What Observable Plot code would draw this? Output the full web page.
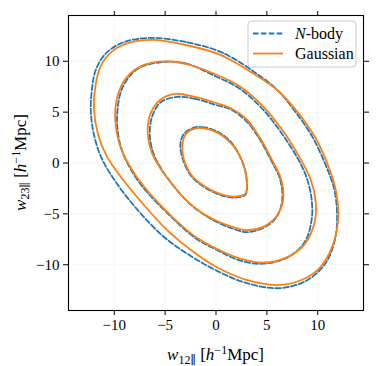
<!DOCTYPE html>
<html><head><meta charset="utf-8">
<script src="https://cdn.jsdelivr.net/npm/d3@7"></script>
<script src="https://cdn.jsdelivr.net/npm/@observablehq/plot@0.6"></script>
<style>body{margin:0;background:#fff} svg{display:block}</style>
</head><body><div id="chart"></div>
<script>
// Series names and colours
const seriesNames = ["N-body", "Gaussian"];
const seriesColors = ["#1f77b4", "#ff7f0e"];
const ticks = [-10, -5, 0, 5, 10];
const domain = [-14.5, 14.5];

// Contour points [w12, w23] (outermost = level 1)
const nbodyL1 = [[0.0,11.1],[-3.0,11.9],[-6.3,12.3],[-9.0,11.9],[-10.8,10.8],[-11.8,9.2],[-12.2,7.2],[-12.3,5.0],[-12.0,2.8],[-11.3,0.6],[-9.9,-1.8],[-7.8,-4.5],[-5.2,-7.2],[-2.7,-9.0],[0.1,-10.6],[3.0,-11.8],[6.3,-12.3],[9.0,-11.5],[10.8,-9.8],[11.7,-7.5],[11.9,-5.0],[11.6,-2.5],[10.7,0.0],[9.4,2.7],[7.9,4.9],[6.0,7.2],[3.4,9.2],[1.5,10.4]];
const nbodyL2 = [[0.0,8.5],[-3.0,9.8],[-5.5,9.9],[-7.8,9.2],[-9.2,7.4],[-9.7,5.0],[-9.6,2.7],[-9.0,0.6],[-7.4,-2.1],[-4.3,-5.4],[-2.0,-7.4],[0.0,-8.5],[2.4,-9.6],[4.6,-9.9],[7.0,-9.3],[8.7,-7.8],[9.4,-5.6],[9.4,-3.6],[8.9,-1.4],[8.0,0.5],[6.4,3.0],[4.4,5.5],[2.2,7.4]];
const nbodyL3 = [[0.0,5.7],[-2.0,6.3],[-3.8,6.5],[-5.4,6.0],[-6.3,4.5],[-6.5,2.6],[-6.1,0.8],[-5.6,-0.2],[-4.6,-1.7],[-2.9,-3.7],[-1.3,-5.0],[0.1,-5.8],[1.5,-6.4],[3.0,-6.8],[4.6,-6.4],[5.9,-5.4],[6.5,-3.7],[6.3,-1.6],[5.4,0.3],[4.2,2.5],[2.9,4.2],[1.4,5.3]];
const nbodyL4 = [[0.3,3.0],[-1.1,3.5],[-2.1,3.5],[-3.2,2.8],[-3.5,1.8],[-3.3,0.5],[-2.5,-1.2],[-1.1,-2.4],[0.6,-3.2],[1.9,-3.4],[2.9,-3.1],[3.0,-1.5],[2.6,0.1],[1.6,1.9]];
const gaussL1 = [[0.0,10.8],[-3.0,11.6],[-6.2,12.1],[-8.6,11.8],[-10.3,10.9],[-11.3,9.6],[-11.8,7.9],[-12.0,5.4],[-11.6,2.8],[-10.7,0.6],[-9.1,-1.7],[-7.2,-4.0],[-4.8,-6.6],[-2.4,-8.6],[0.0,-10.2],[3.0,-11.5],[6.0,-12.0],[8.4,-11.5],[10.2,-10.3],[11.4,-8.3],[12.0,-5.6],[11.8,-2.8],[11.0,-0.2],[9.7,2.6],[8.1,4.9],[6.1,7.1],[3.5,8.9],[1.5,10.1]];
const gaussL2 = [[0.0,8.7],[-2.8,9.7],[-5.0,10.0],[-7.2,9.6],[-8.8,8.4],[-9.7,6.5],[-9.9,4.2],[-9.5,1.9],[-8.6,-0.1],[-7.1,-2.3],[-4.2,-5.4],[-2.1,-7.2],[0.0,-8.4],[2.4,-9.4],[4.6,-9.8],[6.9,-9.3],[8.7,-8.0],[9.7,-5.8],[9.8,-3.8],[9.3,-1.6],[8.3,0.4],[6.7,3.0],[4.6,5.6],[2.4,7.5]];
const gaussL3 = [[0.0,5.9],[-2.1,6.5],[-4.0,6.8],[-5.5,6.2],[-6.5,4.7],[-6.7,2.8],[-6.3,1.0],[-5.8,0.0],[-4.7,-1.6],[-3.0,-3.6],[-1.4,-4.9],[0.1,-5.7],[1.4,-6.2],[3.0,-6.6],[4.6,-6.3],[5.9,-5.3],[6.6,-3.6],[6.4,-1.6],[5.5,0.3],[4.3,2.5],[3.0,4.3],[1.4,5.4]];
const gaussL4 = [[0.3,2.9],[-1.1,3.4],[-2.0,3.4],[-3.0,2.8],[-3.3,1.8],[-3.2,0.5],[-2.4,-1.2],[-1.1,-2.3],[0.6,-3.1],[1.9,-3.3],[2.9,-3.0],[3.0,-1.5],[2.6,0.1],[1.6,1.8]];

const toRows = (series, level, pts) => pts.map(([x, y]) => ({series, level, x, y}));
const nbody = [nbodyL1, nbodyL2, nbodyL3, nbodyL4].flatMap((p, i) => toRows(seriesNames[0], i, p));
const gauss = [gaussL1, gaussL2, gaussL3, gaussL4].flatMap((p, i) => toRows(seriesNames[1], i, p));

const font = "'Liberation Serif', 'DejaVu Serif', serif";
const W = 378, H = 366, mL = 68, mR = 15, mT = 15, mB = 56;

const plot = Plot.plot({
  width: W, height: H, marginLeft: mL, marginRight: mR, marginTop: mT, marginBottom: mB,
  style: {fontFamily: font, fontSize: "15px", background: "#fff", color: "#000", overflow: "visible"},
  x: {domain, label: null},
  y: {domain, label: null},
  marks: [
    Plot.gridX(ticks, {stroke: "#000", strokeOpacity: 0.05, strokeWidth: 0.8}),
    Plot.gridY(ticks, {stroke: "#000", strokeOpacity: 0.05, strokeWidth: 0.8}),
    Plot.line(nbody, {x: "x", y: "y", z: "level", stroke: seriesColors[0], strokeWidth: 1.8,
      strokeDasharray: "5.5,2.4", curve: "catmull-rom-closed"}),
    Plot.line(gauss, {x: "x", y: "y", z: "level", stroke: seriesColors[1], strokeWidth: 1.8,
      curve: "catmull-rom-closed"}),
    Plot.frame({stroke: "#000", strokeWidth: 1.1}),
    Plot.axisX(ticks, {anchor: "bottom", tickSize: 5, tickPadding: 4, label: null, fontSize: 15, stroke: "#000"}),
    Plot.axisX(ticks, {anchor: "top", tickSize: 5, tickFormat: () => "", label: null, stroke: "#000"}),
    Plot.axisY(ticks, {anchor: "left", tickSize: 5, tickPadding: 4, label: null, fontSize: 15, stroke: "#000"}),
    Plot.axisY(ticks, {anchor: "right", tickSize: 5, tickFormat: () => "", label: null, stroke: "#000"})
  ]
});
document.getElementById("chart").appendChild(plot);

const svg = d3.select(plot);
const cx = (mL + W - mR) / 2, cy = (mT + H - mB) / 2;

function axisLabel(g, sub) {
  const t = g.append("text").attr("text-anchor", "middle").attr("font-family", font).attr("font-size", 17).attr("fill", "#000");
  t.append("tspan").attr("font-style", "italic").text("w");
  t.append("tspan").attr("font-size", 12).attr("dy", 3.5).text(sub + "\u2225");
  t.append("tspan").attr("dy", -3.5).text(" [");
  t.append("tspan").attr("font-style", "italic").text("h");
  t.append("tspan").attr("font-size", 12).attr("dy", -6).text("\u22121");
  t.append("tspan").attr("dy", 6).text("Mpc]");
  return t;
}
axisLabel(svg.append("g").attr("transform", `translate(${cx},${H - 6})`), "12");
axisLabel(svg.append("g").attr("transform", `translate(25.5,${cy}) rotate(-90)`), "23");

// Legend
const lg = svg.append("g").attr("transform", `translate(${W - mR - 115},${mT + 6})`);
lg.append("rect").attr("width", 108).attr("height", 46).attr("rx", 3)
  .attr("fill", "#fff").attr("fill-opacity", 0.8).attr("stroke", "#ccc").attr("stroke-width", 1);
seriesNames.forEach((name, i) => {
  const y = 12.5 + i * 20;
  lg.append("line").attr("x1", 5).attr("x2", 35).attr("y1", y).attr("y2", y)
    .attr("stroke", seriesColors[i]).attr("stroke-width", 1.8)
    .attr("stroke-dasharray", i === 0 ? "5.5,2.4" : null);
  const t = lg.append("text").attr("x", 47).attr("y", y + 5).attr("text-anchor", "start")
    .attr("font-family", font).attr("font-size", 16).attr("fill", "#000");
  if (i === 0) {
    t.append("tspan").attr("font-style", "italic").text("N");
    t.append("tspan").text("-body");
  } else t.text(name);
});
</script></body></html>
